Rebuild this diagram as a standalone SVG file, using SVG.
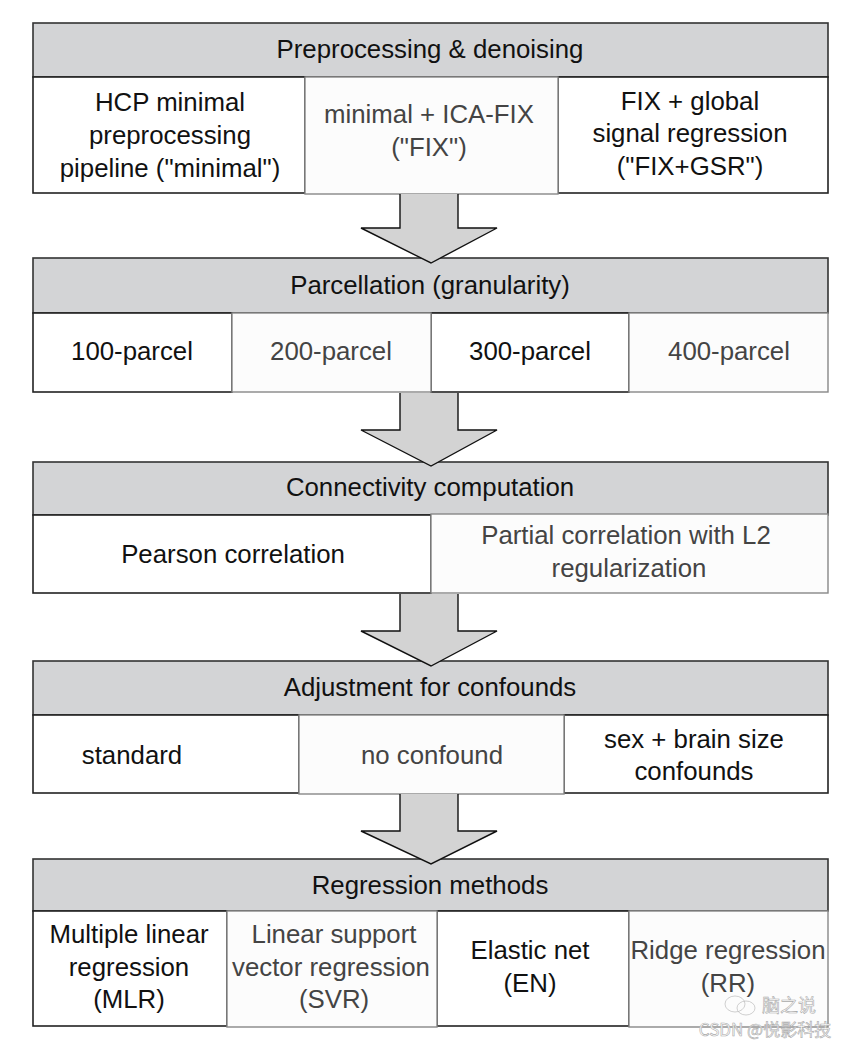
<svg xmlns="http://www.w3.org/2000/svg" width="848" height="1049" viewBox="0 0 848 1049">
<style>
text{font-family:"Liberation Sans",Arial,sans-serif;font-size:25.8px;text-anchor:middle;fill:#111}
.hdr{fill:#d3d4d6;stroke:#333;stroke-width:1.6}
.box{fill:#fff;stroke:#222;stroke-width:1.6}
.alt{fill:#fcfcfc;stroke:#888;stroke-width:1.4}
.alt-t{fill:#444}
.arrow{fill:#d3d3d3;stroke:#111;stroke-width:1.4;stroke-linejoin:miter}
.wm{font-family:"Noto Sans CJK SC","Liberation Sans",sans-serif;fill:#fff;stroke:#aaa;stroke-width:0.6;font-size:18px}
</style>
<rect width="848" height="1049" fill="#fff"/>

<g id="stage1">
<rect class="hdr" x="33" y="23" width="795" height="54"/>
<text x="430" y="58">Preprocessing &amp; denoising</text>
<g id="s1-minimal"><rect class="box" x="33" y="77" width="272" height="116"/>
<text x="170" y="111">HCP minimal</text><text x="170" y="144">preprocessing</text><text x="170" y="177">pipeline ("minimal")</text></g>
<g id="s1-gsr"><rect class="box" x="558" y="77" width="270" height="116"/>
<text x="690" y="110">FIX + global</text><text x="690" y="142">signal regression</text><text x="690" y="175">("FIX+GSR")</text></g>
<g id="s1-fix"><rect class="alt" x="305" y="77" width="253" height="117"/>
<text class="alt-t" x="429" y="123">minimal + ICA-FIX</text><text class="alt-t" x="429" y="156">("FIX")</text></g>
</g>

<g id="stage2">
<rect class="hdr" x="33" y="258" width="795" height="55"/>
<text x="430" y="294">Parcellation (granularity)</text>
<g id="s2-100"><rect class="box" x="33" y="313" width="199" height="79"/><text x="132" y="360">100-parcel</text></g>
<g id="s2-300"><rect class="box" x="431" y="313" width="198" height="79"/><text x="530" y="360">300-parcel</text></g>
<g id="s2-200"><rect class="alt" x="232" y="313" width="199" height="79"/><text class="alt-t" x="331" y="360">200-parcel</text></g>
<g id="s2-400"><rect class="alt" x="629" y="313" width="199" height="79"/><text class="alt-t" x="729" y="360">400-parcel</text></g>
</g>

<g id="stage3">
<rect class="hdr" x="33" y="462" width="795" height="53"/>
<text x="430" y="496">Connectivity computation</text>
<g id="s3-pearson"><rect class="box" x="33" y="515" width="398" height="78"/><text x="233" y="563">Pearson correlation</text></g>
<g id="s3-partial"><rect class="alt" x="431" y="514" width="397" height="79"/>
<text class="alt-t" x="626" y="544">Partial correlation with L2</text><text class="alt-t" x="629" y="577">regularization</text></g>
</g>

<g id="stage4">
<rect class="hdr" x="33" y="661" width="795" height="54"/>
<text x="430" y="696">Adjustment for confounds</text>
<g id="s4-standard"><rect class="box" x="33" y="715" width="266" height="78"/><text x="132" y="764">standard</text></g>
<g id="s4-sex"><rect class="box" x="564" y="715" width="264" height="78"/>
<text x="694" y="748">sex + brain size</text><text x="694" y="780">confounds</text></g>
<g id="s4-none"><rect class="alt" x="299" y="715" width="265" height="79"/><text class="alt-t" x="432" y="764">no confound</text></g>
</g>

<g id="stage5">
<rect class="hdr" x="33" y="859" width="795" height="52"/>
<text x="430" y="894">Regression methods</text>
<g id="s5-mlr"><rect class="box" x="33" y="911" width="194" height="115"/>
<text x="129" y="943">Multiple linear</text><text x="129" y="976">regression</text><text x="129" y="1008">(MLR)</text></g>
<g id="s5-en"><rect class="box" x="437" y="911" width="192" height="115"/>
<text x="530" y="959">Elastic net</text><text x="530" y="992">(EN)</text></g>
<g id="s5-svr"><rect class="alt" x="227" y="911" width="210" height="116"/>
<text class="alt-t" x="334" y="943">Linear support</text><text class="alt-t" x="331" y="976">vector regression</text><text class="alt-t" x="334" y="1008">(SVR)</text></g>
<g id="s5-rr"><rect class="alt" x="629" y="911" width="199" height="116"/>
<text class="alt-t" x="728" y="959">Ridge regression</text><text class="alt-t" x="728" y="992">(RR)</text></g>
</g>

<g id="connectors">
<path class="arrow" d="M400,194 V228 H361 L431,263 L497,228 H458 V194"/>
<path class="arrow" d="M400,393 V430 H361 L431,466 L497,430 H458 V393"/>
<path class="arrow" d="M400,594 V631 H361 L431,666 L497,631 H458 V594"/>
<path class="arrow" d="M400,794 V831 H361 L431,864 L497,831 H458 V794"/>
</g>

<g id="watermark">
<ellipse cx="735" cy="1004" rx="10" ry="8" fill="none" stroke="#bbb" stroke-width="0.7"/>
<ellipse cx="746" cy="1008" rx="9" ry="7" fill="none" stroke="#bbb" stroke-width="0.7"/>
<text class="wm" x="789" y="1012">脑之说</text>
<text class="wm" x="765" y="1036" style="font-size:17px">CSDN @悦影科技</text>
</g>
</svg>
